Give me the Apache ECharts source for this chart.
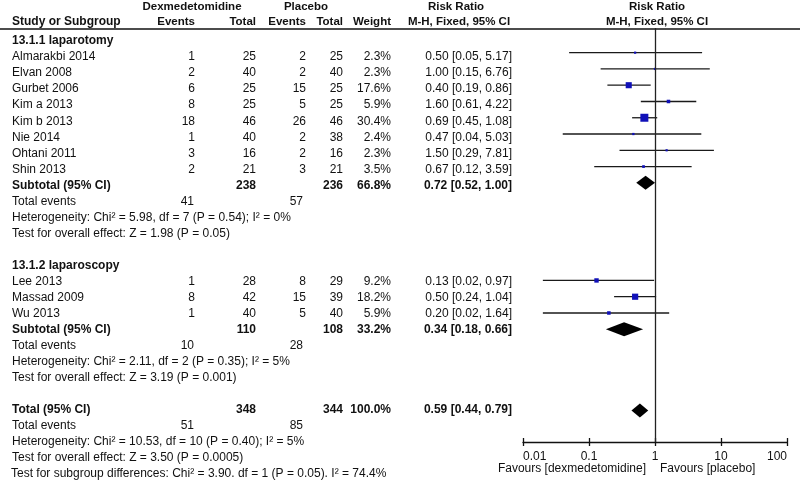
<!DOCTYPE html>
<html><head><meta charset="utf-8">
<script src="https://cdn.jsdelivr.net/npm/echarts@6/dist/echarts.min.js"></script>
<style>html,body{margin:0;padding:0;background:#fff}#c{width:800px;height:491px}</style>
</head><body><div id="c"></div>
<script>
// ---------- data ----------
const groupTitles = ['13.1.1 laparotomy', '13.1.2 laparoscopy'];
const studies = ['Almarakbi 2014','Elvan 2008','Gurbet 2006','Kim a 2013','Kim b 2013','Nie 2014','Ohtani 2011','Shin 2013','Lee 2013','Massad 2009','Wu 2013'];
const studyGroup = [0,0,0,0,0,0,0,0,1,1,1];
const dexEvents = [1,2,6,8,18,1,3,2,1,8,1];
const dexTotal  = [25,40,25,25,46,40,16,21,28,42,40];
const plaEvents = [2,2,15,5,26,2,2,3,8,15,5];
const plaTotal  = [25,40,25,25,46,38,16,21,29,39,40];
const weight    = [2.3,2.3,17.6,5.9,30.4,2.4,2.3,3.5,9.2,18.2,5.9];
const rr        = [0.50,1.00,0.40,1.60,0.69,0.47,1.50,0.67,0.13,0.50,0.20];
const rrLow     = [0.05,0.15,0.19,0.61,0.45,0.04,0.29,0.12,0.02,0.24,0.02];
const rrHigh    = [5.17,6.76,0.86,4.22,1.08,5.03,7.81,3.59,0.97,1.04,1.64];

// subtotal 1, subtotal 2, overall total
const poolNames    = ['Subtotal (95% CI)','Subtotal (95% CI)','Total (95% CI)'];
const poolDexTotal = [238,110,348];
const poolPlaTotal = [236,108,344];
const poolWeight   = [66.8,33.2,100.0];
const poolRR       = [0.72,0.34,0.59];
const poolLow      = [0.52,0.18,0.44];
const poolHigh     = [1.00,0.66,0.79];
const poolDexEvents= [41,10,51];
const poolPlaEvents= [57,28,85];
const heterogeneity = ['Heterogeneity: Chi² = 5.98, df = 7 (P = 0.54); I² = 0%','Heterogeneity: Chi² = 2.11, df = 2 (P = 0.35); I² = 5%','Heterogeneity: Chi² = 10.53, df = 10 (P = 0.40); I² = 5%'];
const overallEffect = ['Test for overall effect: Z = 1.98 (P = 0.05)','Test for overall effect: Z = 3.19 (P = 0.001)','Test for overall effect: Z = 3.50 (P = 0.0005)'];
const subgroupDiff = 'Test for subgroup differences: Chi² = 3.90. df = 1 (P = 0.05). I² = 74.4%';
const tickLabels = ['0.01','0.1','1','10','100'];
const favoursLeft = 'Favours [dexmedetomidine]';
const favoursRight = 'Favours [placebo]';

// ---------- layout ----------
const FONT = '"Liberation Sans", Arial, Helvetica, sans-serif';
const TXT = '#111';
const row0 = 41, rowH = 16.04;          // text rows
const markRow0 = 36.4, markRowH = 16.27; // plot rows
const rowY = r => row0 + rowH * r;
const col = {name: 12, dexEv: 195, dexTot: 256, plaEv: 306, plaTot: 343, w: 391, ci: 512};
const plotLeft = 523, plotRight = 787, plotTop = 28, plotBottom = 442;

const graphics = [];
function txt(s, x, r, align, bold, yOverride, size) {
  graphics.push({type: 'text', x: x, y: yOverride !== undefined ? yOverride : rowY(r), silent: true,
    style: {text: String(s), fill: TXT, font: (bold ? 'bold ' : '') + (size || 12) + 'px ' + FONT,
      align: align, verticalAlign: 'middle'}});
}
const ci = (a, b, c) => a.toFixed(2) + ' [' + b.toFixed(2) + ', ' + c.toFixed(2) + ']';

// header
const HS = 11.5;
txt('Dexmedetomidine', 192, 0, 'center', true, 7, HS);
txt('Placebo', 306, 0, 'center', true, 7, HS);
txt('Risk Ratio', 456, 0, 'center', true, 7, HS);
txt('Risk Ratio', 657, 0, 'center', true, 7, HS);
txt('Study or Subgroup', col.name, 0, 'left', true, 22, 12);
txt('Events', col.dexEv, 0, 'right', true, 22, HS);
txt('Total', col.dexTot, 0, 'right', true, 22, HS);
txt('Events', col.plaEv, 0, 'right', true, 22, HS);
txt('Total', col.plaTot, 0, 'right', true, 22, HS);
txt('Weight', col.w, 0, 'right', true, 22, HS);
txt('M-H, Fixed, 95% CI', 459, 0, 'center', true, 22, HS);
txt('M-H, Fixed, 95% CI', 657, 0, 'center', true, 22, HS);
graphics.push({type: 'line', silent: true, shape: {x1: 0, y1: 29, x2: 800, y2: 29}, style: {stroke: '#111', lineWidth: 1.3}});

const studyMarks = [];
const poolMarks = [];
let r = 0;
function poolBlock(p) {
  txt(poolNames[p], col.name, r, 'left', true);
  txt(poolDexTotal[p], col.dexTot, r, 'right', true);
  txt(poolPlaTotal[p], col.plaTot, r, 'right', true);
  txt(poolWeight[p].toFixed(1) + '%', col.w, r, 'right', true);
  txt(ci(poolRR[p], poolLow[p], poolHigh[p]), col.ci, r, 'right', true);
  poolMarks.push([poolRR[p], poolLow[p], poolHigh[p], r]);
  r++;
  txt('Total events', col.name, r, 'left', false);
  txt(poolDexEvents[p], col.dexEv - 1, r, 'right', false);
  txt(poolPlaEvents[p], col.plaEv - 3, r, 'right', false);
  r++;
  txt(heterogeneity[p], col.name, r, 'left', false); r++;
  txt(overallEffect[p], col.name, r, 'left', false); r++;
}
for (let g = 0; g < groupTitles.length; g++) {
  txt(groupTitles[g], col.name, r, 'left', true); r++;
  for (let i = 0; i < studies.length; i++) {
    if (studyGroup[i] !== g) continue;
    txt(studies[i], col.name, r, 'left', false);
    txt(dexEvents[i], col.dexEv, r, 'right', false);
    txt(dexTotal[i], col.dexTot, r, 'right', false);
    txt(plaEvents[i], col.plaEv, r, 'right', false);
    txt(plaTotal[i], col.plaTot, r, 'right', false);
    txt(weight[i].toFixed(1) + '%', col.w, r, 'right', false);
    txt(ci(rr[i], rrLow[i], rrHigh[i]), col.ci, r, 'right', false);
    studyMarks.push([rr[i], rrLow[i], rrHigh[i], r, weight[i]]);
    r++;
  }
  poolBlock(g);
  r++; // blank row
}
poolBlock(2);
txt(subgroupDiff, col.name - 1, r, 'left', false);

// favours labels
txt(favoursLeft, 646, 0, 'right', false, 469);
txt(favoursRight, 660, 0, 'left', false, 469);

// ---------- chart ----------
const chart = echarts.init(document.getElementById('c'), null, {renderer: 'canvas'});
const yMin = (plotTop - markRow0) / markRowH, yMax = (plotBottom - markRow0) / markRowH;
const maxW = Math.max(...weight);
const labelFmt = v => tickLabels[Math.round(Math.log10(v)) + 2];

chart.setOption({
  animation: false,
  backgroundColor: '#fff',
  grid: {left: plotLeft, top: plotTop, width: plotRight - plotLeft, height: plotBottom - plotTop, containLabel: false},
  xAxis: [
    {type: 'log', logBase: 10, min: 0.01, max: 100, position: 'bottom',
     axisLine: {show: true, onZero: false, lineStyle: {color: '#111', width: 1.3}},
     axisTick: {show: true, length: 4, lineStyle: {color: '#111', width: 1.3}},
     axisLabel: {show: true, formatter: labelFmt, color: TXT, fontFamily: FONT, fontSize: 12, margin: 9,
       alignMinLabel: 'left', alignMaxLabel: 'right'},
     splitLine: {show: false}, minorTick: {show: false}},
    {type: 'log', logBase: 10, min: 0.01, max: 100, position: 'bottom',
     axisLine: {show: false, onZero: false},
     axisTick: {show: true, inside: true, length: 4, lineStyle: {color: '#111', width: 1.3}},
     axisLabel: {show: false}, splitLine: {show: false}}
  ],
  yAxis: {type: 'value', inverse: true, min: yMin, max: yMax, show: false},
  series: [
    {type: 'custom', xAxisIndex: 0, yAxisIndex: 0, data: studyMarks, encode: {x: [0, 1, 2], y: 3},
     clip: false, silent: true,
     renderItem: function (params, api) {
       const c = api.coord([api.value(0), api.value(3)]);
       const a = api.coord([api.value(1), api.value(3)]);
       const b = api.coord([api.value(2), api.value(3)]);
       const s = Math.max(2, 8 * Math.sqrt(api.value(4) / maxW));
       return {type: 'group', children: [
         {type: 'line', shape: {x1: a[0], y1: a[1], x2: b[0], y2: b[1]}, style: {stroke: '#1a1a1a', lineWidth: 1.3}},
         {type: 'rect', shape: {x: c[0] - s / 2, y: c[1] - s / 2, width: s, height: s}, style: {fill: '#1010b8'}}
       ]};
     },
     markLine: {silent: true, symbol: 'none', label: {show: false},
       lineStyle: {color: '#222', width: 1.3, type: 'solid'}, data: [{xAxis: 1}]}
    },
    {type: 'custom', xAxisIndex: 0, yAxisIndex: 0, data: poolMarks, encode: {x: [0, 1, 2], y: 3},
     clip: false, silent: true,
     renderItem: function (params, api) {
       const c = api.coord([api.value(0), api.value(3)]);
       const a = api.coord([api.value(1), api.value(3)]);
       const b = api.coord([api.value(2), api.value(3)]);
       const h = 7;
       return {type: 'polygon', shape: {points: [[a[0], a[1]], [c[0], c[1] - h], [b[0], b[1]], [c[0], c[1] + h]]},
         style: {fill: '#000'}};
     }
    }
  ],
  graphic: {elements: graphics}
});
</script></body></html>
